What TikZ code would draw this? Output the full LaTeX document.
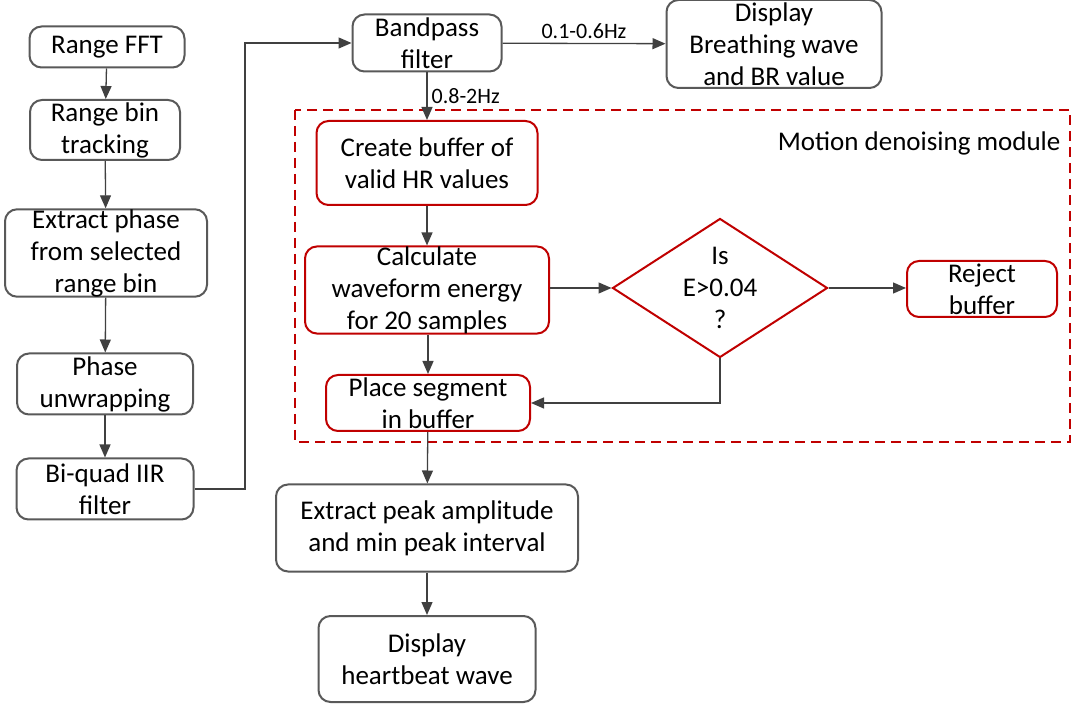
\documentclass[tikz,border=0pt]{standalone}
\usepackage{fontspec}
\setmainfont{Carlito}
\usetikzlibrary{arrows.meta,shapes.geometric}
\definecolor{boxgray}{HTML}{595959}
\definecolor{linegray}{HTML}{404040}
\definecolor{modred}{HTML}{C00000}

\tikzset{
  graybox/.style={draw=boxgray,line width=2pt,rounded corners=12pt,fill=white,align=center,inner sep=0pt},
  redbox/.style={draw=modred,line width=2pt,rounded corners=12pt,fill=white,align=center,inner sep=0pt},
  flow/.style={draw=linegray,line width=1.3pt,-{Triangle[length=13pt,width=11pt]}},
  flowlabel/.style={font=\fontsize{22}{26}\selectfont,inner sep=4pt}
}

\begin{document}
\begin{tikzpicture}[x=1pt,y=-1pt,font=\fontsize{27}{32}\selectfont]
    \useasboundingbox (0,0) rectangle (1077,708);

    % motion denoising module frame
    \draw [modred,line width=1.6pt,dash pattern=on 10pt off 6pt] (295,110) rectangle (1070,442);
    \node [anchor=east] (modlabel) at (1064,143) {Motion denoising module};

    % left column
    \node [graybox,minimum width=155pt,minimum height=41pt] (rangefft) at (107,47) {Range FFT};
    \node [graybox,minimum width=150pt,minimum height=60pt] (bintrack) at (105,130) {Range bin\\tracking};
    \node [graybox,minimum width=202pt,minimum height=87pt] (extphase) at (106,253) {Extract phase\\from selected\\range bin};
    \node [graybox,minimum width=176pt,minimum height=61pt] (unwrap) at (105,384) {Phase\\unwrapping};
    \node [graybox,minimum width=177pt,minimum height=61pt] (biquad) at (105,489) {Bi-quad IIR\\filter};

    % top row
    \node [graybox,minimum width=149pt,minimum height=57pt] (bandpass) at (427,43) {Bandpass\\filter};
    \node [graybox,minimum width=215pt,minimum height=88pt] (breath) at (774,44) {Display\\Breathing wave\\and BR value};

    % heart rate path
    \node [redbox,minimum width=221pt,minimum height=84pt] (hrbuffer) at (427,163) {Create buffer of\\valid HR values};
    \node [redbox,minimum width=244pt,minimum height=87pt] (energy) at (427,290) {Calculate\\waveform energy\\for 20 samples};
    \node [diamond,draw=modred,line width=2pt,fill=white,align=center,inner xsep=-30pt,inner ysep=-30pt,
           minimum width=215pt,minimum height=139pt] (check) at (720,288) {Is\\E>0.04\\?};
    \node [redbox,minimum width=150pt,minimum height=56pt] (reject) at (982,289) {Reject\\buffer};
    \node [redbox,minimum width=204pt,minimum height=56pt] (place) at (428,403) {Place segment\\in buffer};
    \node [graybox,minimum width=302pt,minimum height=87pt] (peak) at (427,528) {Extract peak amplitude\\and min peak interval};
    \node [graybox,minimum width=217pt,minimum height=86pt] (heart) at (427,659) {Display\\heartbeat wave};

    % connectors
    \draw [flow] (rangefft) -- (bintrack);
    \draw [flow] (bintrack) -- (extphase);
    \draw [flow] (extphase) -- (unwrap);
    \draw [flow] (unwrap) -- (biquad);
    \draw [flow] (biquad.east) -- (245,489) |- (bandpass.west);
    \draw [flow] (bandpass) -- node [flowlabel,above] {0.1-0.6Hz} (breath);
    \draw [flow] (bandpass) -- node [flowlabel,right] {0.8-2Hz} (hrbuffer);
    \draw [flow] (hrbuffer) -- (energy);
    \draw [flow] (energy.east |- check.west) -- (check.west);
    \draw [flow] (check.east) -- (reject.west |- check.east);
    \draw [flow] (check.south) |- (place.east);
    \draw [flow] (energy.south -| place.north) -- (place.north);
    \draw [flow] (place) -- (peak);
    \draw [flow] (peak) -- (heart);
\end{tikzpicture}
\end{document}
